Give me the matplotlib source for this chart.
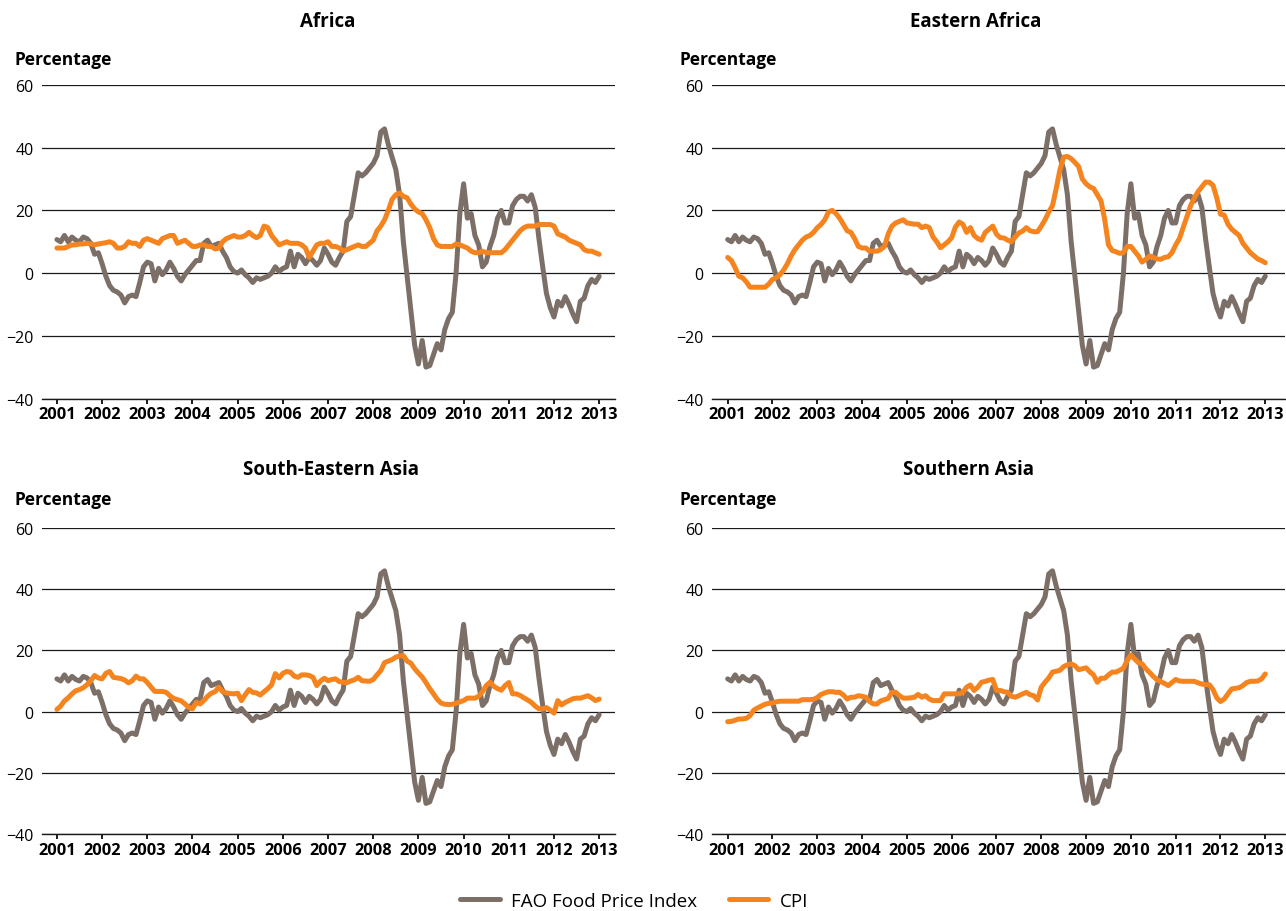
import matplotlib
matplotlib.use("Agg")
import matplotlib.pyplot as plt
import numpy as np

plt.rcParams['font.family'] = ['Open Sans', 'DejaVu Sans']

# Monthly observations, Jan 2001 .. Jan 2013 (145 points)
start_year = 2001
years = list(range(2001, 2014))

fao = [10.7, 10, 12, 10, 11.5, 10.5, 10, 11.5, 11, 9.5, 6, 6.5,
       3, -1, -4, -5.5, -6, -7, -9.5, -7.5, -7, -7.5, -3, 2,
       3.5, 3, -2.5, 1.5, -0.5, 1, 3.5, 1.5, -1, -2.5, -0.5, 1,
       2.5, 4, 4, 9.5, 10.5, 8.5, 9, 9.5, 7, 5, 2, 0.5,
       0, 1, -0.5, -1.5, -3, -1.5, -2, -1.5, -1, 0, 2, 0.5,
       1.5, 2, 7, 2, 6, 5, 3, 5, 4, 2.5, 4, 8,
       6, 3.5, 2.5, 5, 7, 16.5, 18, 25, 32, 31, 32, 33.5,
       35, 37.5, 45, 46, 41, 37, 33, 25, 10, -1, -12, -23,
       -29, -21.5, -30, -29.5, -26, -22.5, -24.5, -18, -14.5, -12.5, 0, 19,
       28.5, 17.5, 19, 12, 9, 2, 3.5, 8.5, 12, 17.5, 20, 16,
       16, 21.5, 23.5, 24.5, 24.5, 23, 25, 21, 11, 2, -6.5, -11,
       -14, -9, -10.5, -7.5, -10, -13, -15.5, -9, -8, -4, -2, -3,
       -1]

cpi_africa = [8, 8, 8, 8.5, 9, 9, 9.3, 9.3, 9.5, 9.3, 9, 9.3,
              9.5, 9.7, 10, 9.5, 8, 8, 8.5, 10, 9.5, 9.5, 8.5, 10.5,
              11, 10.5, 10, 9.5, 11, 11.5, 12, 12, 9.5, 10, 10.5, 9.5,
              8.5, 8.5, 9, 9, 8.5, 8.5, 7.7, 8, 10, 11, 11.5, 12,
              11.5, 11.5, 12, 13, 12, 11.3, 12, 15, 14.5, 12, 10.5, 9,
              9.5, 10, 9.5, 9.5, 9.5, 9, 8, 5, 7, 9, 9.5, 9.5,
              10, 8.5, 8.5, 8, 7, 7.5, 8, 8.5, 9, 8.5, 8.5, 9.5,
              10.5, 13.5, 15, 17, 20, 23.5, 25, 25.5, 24.5, 24, 22, 20.5,
              19.5, 19, 17, 14.5, 11, 9, 8.5, 8.5, 8.5, 8.5, 9.3, 9,
              8.5, 8, 7, 6.5, 6.5, 7, 6.5, 6.5, 6.5, 6.5, 6.5, 7.5,
              9, 10.5, 12, 13.5, 14.5, 15, 15, 15, 15.5, 15.5, 15.5, 15.5,
              15, 12.5, 12, 11.5, 10.5, 10, 9.5, 9, 7.5, 7, 7, 6.5,
              6]

cpi_eastern_africa = [5, 4, 1.7, -1, -1.5, -2.8, -4.5, -4.5, -4.5, -4.5, -4.5, -3.5,
                      -2, -1.5, -0.5, 1, 3, 5.5, 7.5, 9, 10.5, 11.5, 12, 13,
                      14.5, 15.5, 17, 19.5, 20, 19, 17.5, 15.5, 13.5, 13, 11, 8.5,
                      8, 8, 7, 7, 7, 7.5, 8.5, 12.5, 15, 16, 16.5, 17,
                      16, 15.8, 15.6, 15.6, 14.5, 15, 14.5, 11.5, 10, 8.1, 9, 10,
                      11.3, 14.7, 16.3, 15.6, 13, 14.5, 12, 11, 10.5, 13, 14, 15,
                      12.4, 11.3, 11.2, 10.5, 10, 11.5, 12.8, 13.4, 14.5, 13.5, 13.2, 13.2,
                      15, 17, 19.5, 21.5, 27, 33, 37, 37.2, 36.5, 35.3, 34, 30,
                      28.5, 27.5, 27, 25, 23, 17, 9, 7.2, 6.8, 6.3, 6.5, 8.5,
                      8.5, 7, 5.5, 3.5, 4.4, 5.5, 5, 4.5, 4.4, 5, 5.2, 6.5,
                      9, 11, 14.5, 18, 21.5, 24, 26, 27.5, 29, 29, 28, 24,
                      18.8, 18.5, 15.6, 14, 13, 12, 9.5, 8, 6.5, 5.5, 4.5, 4,
                      3.3]

cpi_se_asia = [0.7, 1.8, 3.5, 4.5, 5.8, 6.8, 7.2, 7.8, 8.8, 10.1, 11.8, 11,
               10.7, 12.5, 13.1, 11.2, 11, 10.8, 10.3, 9.4, 10.1, 11.6, 10.7, 10.7,
               9.5, 8, 6.6, 6.6, 6.6, 6.3, 5.2, 4.3, 3.9, 3.5, 2.5, 1.4,
               0.9, 3, 2.5, 3.6, 5, 6, 6.5, 8, 6.5, 6.1, 5.9, 5.8,
               6, 3.6, 5.5, 7.2, 6.3, 6.1, 5.4, 6.5, 7.5, 8.7, 12.4, 11,
               12.5, 13.1, 12.9, 11.6, 11.2, 12, 12, 11.8, 11.2, 8.5, 10, 10.9,
               10.1, 10.5, 10.7, 9.8, 9.6, 9.4, 10, 10.4, 11.2, 10.1, 10, 9.9,
               10.5, 12, 13.4, 16, 16.5, 17, 17.8, 18.2, 18.3, 16.5, 15.8, 14,
               12.6, 11.3, 9.5, 7.5, 5.8, 4, 2.8, 2.4, 2.3, 2.4, 2.7, 3.2,
               3.6, 4.4, 4.4, 4.4, 5, 6.5, 8.5, 9.6, 8.3, 7.5, 7, 8.5,
               9.5, 5.8, 5.8, 5.3, 4.5, 3.8, 3, 1.8, 0.9, 0.9, 1.3, 0.5,
               -0.5, 3.6, 2.2, 3, 3.6, 4.2, 4.4, 4.4, 4.8, 5.2, 4.5, 3.6,
               4.1]

cpi_southern_asia = [-3.3, -3.2, -2.8, -2.4, -2.4, -2.2, -1.3, 0.5, 1.2, 1.8, 2.4, 2.7,
                     2.8, 3.2, 3.4, 3.4, 3.4, 3.4, 3.4, 3.4, 3.9, 3.9, 3.9, 4,
                     4.6, 5.6, 6.1, 6.5, 6.5, 6.3, 6.3, 5.4, 4.1, 4.7, 4.7, 5.2,
                     5, 4.7, 3.3, 2.5, 2.5, 3.5, 3.9, 4.3, 6.3, 6.3, 5.2, 4.4,
                     4.4, 4.5, 4.7, 5.6, 4.7, 5.2, 4.1, 3.6, 3.6, 3.6, 5.8, 5.8,
                     5.8, 5.8, 5.8, 6.3, 8, 8.7, 6.9, 8, 9.6, 9.9, 10.3, 10.5,
                     6.9, 6.9, 6.5, 6.3, 5, 4.7, 5.2, 5.8, 6.3, 5.5, 5.2, 3.8,
                     8, 9.6, 11, 12.9, 13.2, 13.5, 14.7, 15.3, 15.6, 15, 13.7, 14,
                     14.3, 13, 12, 9.6, 10.9, 10.9, 12, 12.9, 12.9, 13.5, 14.2, 16.7,
                     18.5, 17.2, 16, 15.6, 14, 12.8, 11.5, 10.4, 9.8, 9.2, 8.5, 9.5,
                     10.5, 10, 9.9, 9.9, 9.9, 9.9, 9.4, 9, 8.8, 8.8, 7.2, 4.5,
                     3.3, 4.1, 5.8, 7.4, 7.6, 7.8, 8.5, 9.5, 9.9, 9.9, 10, 10.7,
                     12.3]

titles = ["Africa", "Eastern Africa", "South-Eastern Asia", "Southern Asia"]
cpis = [cpi_africa, cpi_eastern_africa, cpi_se_asia, cpi_southern_asia]
yticks = [-40, -20, 0, 20, 40, 60]

FAO_COLOR = "#7c6f67"
CPI_COLOR = "#f5841f"

W, H = 1286, 912
fig = plt.figure(figsize=(W / 100, H / 100), dpi=100)

def fx(px):
    return px / W

def fy(py):
    return 1 - py / H

# axes boxes in pixel coords: (left, top, right, bottom)
boxes = [(42, 86, 615, 399.5), (712, 86, 1285, 399.5),
         (42, 529, 615, 835), (712, 529, 1285, 835)]
xlims = [(2000.67, 2013.35), (2000.65, 2013.44), (2000.67, 2013.35), (2000.65, 2013.44)]
title_pos = [(328, 22), (976, 22), (331, 470), (968, 470)]
perc_pos = [(14, 60), (680, 60), (14, 500), (680, 500)]

n = len(fao)
xs = start_year + np.arange(n) / 12.0

for i in range(4):
    l, t, r, b = boxes[i]
    ax = fig.add_axes([fx(l), fy(b), fx(r) - fx(l), fy(t) - fy(b)])
    ax.set_xlim(*xlims[i])
    ax.set_ylim(-40, 60)
    ax.set_yticks(yticks)
    ax.yaxis.grid(True, color="#1a1a1a", linewidth=0.9)
    ax.set_axisbelow(True)
    for s in ["top", "right", "left"]:
        ax.spines[s].set_visible(False)
    ax.spines["bottom"].set_color("#1a1a1a")
    ax.spines["bottom"].set_linewidth(1.0)
    ax.set_xticks(years)
    ax.set_xticklabels([str(y) for y in years], fontweight="bold", fontsize=11.8)
    ax.tick_params(axis="x", length=3.5, width=1.4, direction="out", pad=2, color="#1a1a1a")
    ax.tick_params(axis="y", length=0, pad=6, labelsize=11.5)
    ax.plot(xs, fao, color=FAO_COLOR, lw=3.6, solid_joinstyle="round",
            solid_capstyle="round", label="FAO Food Price Index", zorder=3)
    ax.plot(xs, cpis[i], color=CPI_COLOR, lw=3.6, solid_joinstyle="round",
            solid_capstyle="round", label="CPI", zorder=4)
    fig.text(fx(title_pos[i][0]), fy(title_pos[i][1]), titles[i], ha="center",
             va="center", fontsize=13.5, fontweight="bold")
    fig.text(fx(perc_pos[i][0]), fy(perc_pos[i][1]), "Percentage", ha="left",
             va="center", fontsize=12.5, fontweight="bold")
    if i == 0:
        handles, labels = ax.get_legend_handles_labels()

fig.legend(handles, labels, loc="center", bbox_to_anchor=(fx(634), fy(902)),
           ncol=2, frameon=False, fontsize=13.5, handlelength=2.1,
           columnspacing=1.7, handletextpad=0.6)

fig.savefig("out.png", dpi=100)
